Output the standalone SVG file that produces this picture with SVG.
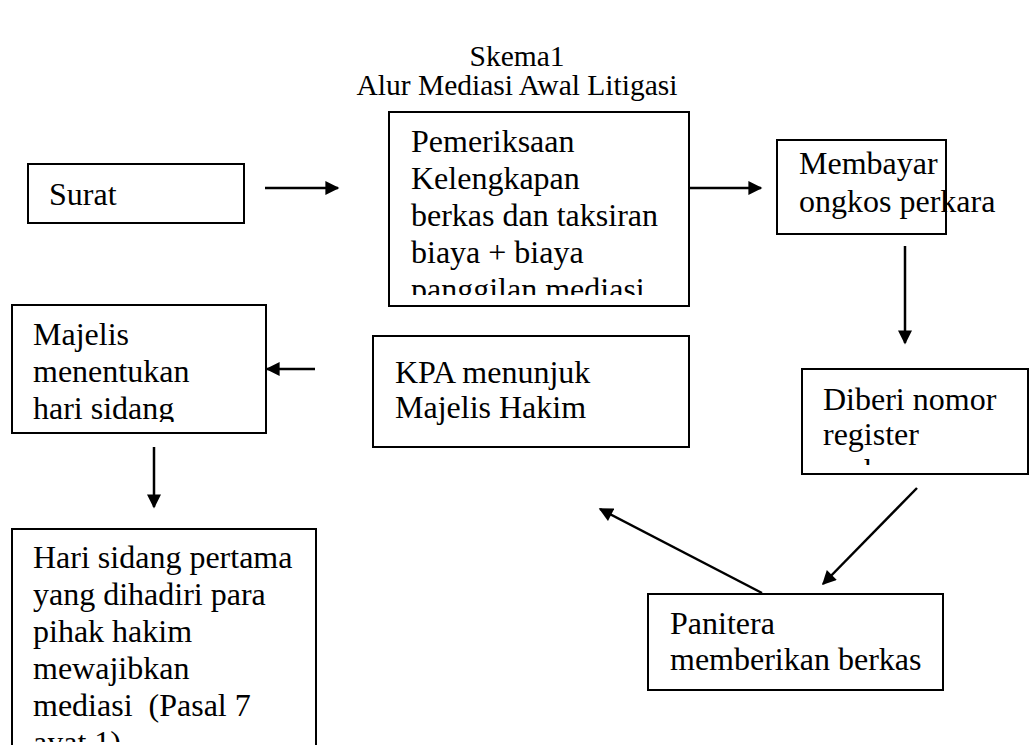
<svg xmlns="http://www.w3.org/2000/svg" width="1036" height="745" viewBox="0 0 1036 745">
<style>
.box{fill:#fff;stroke:#000;stroke-width:2}
text{font-family:'Liberation Serif','Times New Roman','DejaVu Serif',serif;fill:#000}
.t{font-size:32px}
.title{font-size:29.5px;text-anchor:middle}
.c{stroke:#000;stroke-width:2.5;fill:none;marker-end:url(#ah)}
</style>
<defs>
<marker id="ah" viewBox="0 0 10 10" refX="9" refY="5" markerUnits="userSpaceOnUse" markerWidth="15" markerHeight="14" orient="auto">
<path d="M0,0 L10,5 L0,10 Z" fill="#000"/>
</marker>
<clipPath id="cp1"><rect x="389" y="112" width="300" height="183"/></clipPath>
<clipPath id="cp2"><rect x="12" y="305" width="254" height="117"/></clipPath>
<clipPath id="cp3"><rect x="802" y="369" width="226" height="96"/></clipPath>
<clipPath id="cp4"><rect x="12" y="529" width="304" height="213"/></clipPath>
</defs>
<rect width="1036" height="745" fill="#fff"/>
<g id="title">
<text class="title" x="517" y="66">Skema1</text>
<text class="title" x="517" y="95">Alur Mediasi Awal Litigasi</text>
</g>
<g id="surat">
<rect class="box" x="28" y="164" width="216" height="59"/>
<text class="t" x="49" y="205">Surat</text>
</g>
<g id="pemeriksaan">
<rect class="box" x="389" y="112" width="300" height="194"/>
<g clip-path="url(#cp1)">
<text class="t" x="411" y="152">Pemeriksaan</text>
<text class="t" x="411" y="189">Kelengkapan</text>
<text class="t" x="411" y="226">berkas dan taksiran</text>
<text class="t" x="411" y="263">biaya + biaya</text>
<text class="t" x="411" y="300">panggilan mediasi</text>
</g>
</g>
<g id="membayar">
<rect class="box" x="777" y="140" width="169" height="94"/>
<text class="t" x="799" y="174">Membayar</text>
<text class="t" x="799" y="212">ongkos perkara</text>
</g>
<g id="diberi">
<rect class="box" x="802" y="369" width="226" height="105"/>
<g clip-path="url(#cp3)">
<text class="t" x="823" y="410">Diberi nomor</text>
<text class="t" x="823" y="445">register</text>
<text class="t" x="823" y="481">perkara</text>
</g>
</g>
<g id="panitera">
<rect class="box" x="648" y="594" width="295" height="96"/>
<text class="t" x="670" y="634">Panitera</text>
<text class="t" x="670" y="670">memberikan berkas</text>
</g>
<g id="kpa">
<rect class="box" x="373" y="336" width="316" height="111"/>
<text class="t" x="395" y="383">KPA menunjuk</text>
<text class="t" x="395" y="418">Majelis Hakim</text>
</g>
<g id="majelis">
<rect class="box" x="12" y="305" width="254" height="128"/>
<g clip-path="url(#cp2)">
<text class="t" x="33" y="345">Majelis</text>
<text class="t" x="33" y="382">menentukan</text>
<text class="t" x="33" y="419">hari sidang</text>
</g>
</g>
<g id="harisidang">
<path class="box" d="M12,746 V529 H316 V746"/>
<g clip-path="url(#cp4)">
<text class="t" x="33" y="568">Hari sidang pertama</text>
<text class="t" x="33" y="605">yang dihadiri para</text>
<text class="t" x="33" y="642">pihak hakim</text>
<text class="t" x="33" y="679">mewajibkan</text>
<text class="t" x="33" y="716" xml:space="preserve">mediasi  (Pasal 7</text>
<text class="t" x="33" y="753">ayat 1)</text>
</g>
</g>
<g id="connectors">
<line class="c" x1="265" y1="188" x2="338" y2="188"/>
<line class="c" x1="689" y1="188" x2="761" y2="188"/>
<line class="c" x1="905" y1="246" x2="905" y2="343"/>
<line class="c" x1="917" y1="488" x2="823" y2="584"/>
<line class="c" x1="762" y1="593" x2="600" y2="509"/>
<line class="c" x1="315" y1="369" x2="267" y2="369"/>
<line class="c" x1="154" y1="447" x2="154" y2="507"/>
</g>
</svg>
